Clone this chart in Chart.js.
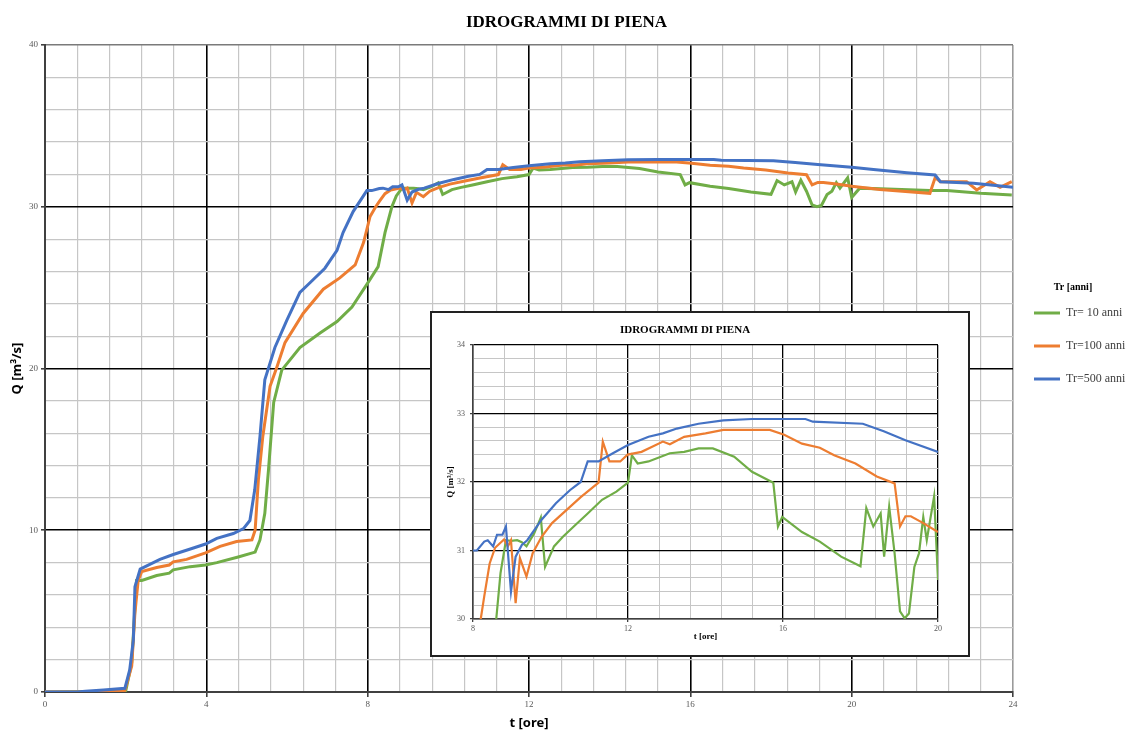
<!DOCTYPE html>
<html>
<head>
<meta charset="utf-8">
<script src="https://cdn.jsdelivr.net/npm/chart.js@4.4.1/dist/chart.umd.min.js"></script>
<style>
  html, body { margin: 0; padding: 0; background: #fff; }
  #wrap { position: relative; width: 1133px; height: 731px; }
  #main { position: absolute; left: 0; top: 0; }
  #insetBox { position: absolute; left: 430px; top: 311px; width: 540px; height: 346px;
              box-sizing: border-box; border: 2px solid #222; background: #fff; }
  #inset { position: absolute; left: 0; top: 0; }
</style>
</head>
<body>
<div id="wrap">
  <canvas id="main" width="1133" height="731"></canvas>
  <div id="insetBox"><canvas id="inset" width="536" height="342"></canvas></div>
</div>
<script>
// ---- data (t in hours, Q in m3/s) ----
const seriesLabels = ['Tr= 10 anni', 'Tr=100 anni', 'Tr=500 anni'];
const seriesColors = ['#70AD47', '#ED7D31', '#4472C4'];

const tG = [0, 2.0, 2.15, 2.27, 2.4, 2.77, 3.08, 3.18, 3.6, 3.98, 4.26, 4.79, 5.21, 5.33, 5.45, 5.54, 5.67, 5.87, 6.32, 6.82, 7.24, 7.61, 7.98, 8.26, 8.43, 8.6, 8.71, 8.85, 8.98, 9.14, 9.26, 9.38, 9.58, 9.75, 9.86, 10.09, 10.32, 10.6, 10.96, 11.33, 11.7, 12.0, 12.1, 12.25, 12.53, 13.08, 13.45, 13.82, 14.19, 14.74, 15.2, 15.75, 15.87, 15.98, 16.49, 16.95, 17.5, 18.0, 18.15, 18.33, 18.52, 18.61, 18.74, 18.88, 19.02, 19.14, 19.25, 19.39, 19.51, 19.62, 19.71, 19.9, 20.0, 20.2, 21.94, 22.36, 23.2, 23.97];
const qG = [0, 0.05, 1.8, 6.9, 6.9, 7.2, 7.35, 7.55, 7.75, 7.85, 8.0, 8.35, 8.65, 9.4, 11.05, 13.7, 17.9, 19.9, 21.3, 22.2, 22.9, 23.8, 25.2, 26.3, 28.4, 30.0, 30.67, 31.15, 31.14, 31.15, 31.12, 31.06, 31.25, 31.48, 30.76, 31.06, 31.2, 31.35, 31.54, 31.74, 31.86, 31.99, 32.39, 32.27, 32.3, 32.42, 32.44, 32.49, 32.49, 32.37, 32.15, 31.99, 31.35, 31.49, 31.27, 31.13, 30.91, 30.77, 31.62, 31.35, 31.54, 30.91, 31.64, 30.96, 30.11, 30.01, 30.08, 30.76, 30.96, 31.49, 31.15, 31.79, 30.57, 31.15, 31.0, 31.0, 30.83, 30.73];

const tO = [0, 1.62, 1.98, 2.15, 2.23, 2.31, 2.4, 2.77, 3.08, 3.18, 3.51, 3.98, 4.34, 4.75, 5.13, 5.21, 5.29, 5.4, 5.58, 5.75, 5.95, 6.4, 6.9, 7.31, 7.69, 7.9, 8.06, 8.2, 8.29, 8.43, 8.57, 8.8, 8.9, 8.98, 9.1, 9.21, 9.38, 9.54, 9.77, 10.04, 10.41, 10.78, 11.24, 11.35, 11.52, 11.8, 11.99, 12.35, 12.9, 13.08, 13.45, 14.0, 14.46, 15.66, 16.03, 16.49, 16.95, 17.32, 17.87, 18.42, 18.88, 19.02, 19.16, 19.3, 19.62, 20.0, 20.7, 21.94, 22.07, 22.2, 22.85, 23.1, 23.43, 23.68, 23.97];
const qO = [0, 0, 0.1, 1.6, 4.9, 6.9, 7.45, 7.7, 7.85, 8.05, 8.2, 8.6, 9.0, 9.3, 9.4, 10.0, 13.1, 15.8, 18.9, 20.1, 21.6, 23.4, 24.9, 25.6, 26.4, 27.8, 29.4, 30.0, 30.33, 30.81, 31.04, 31.16, 31.06, 31.15, 30.23, 30.89, 30.62, 30.96, 31.2, 31.4, 31.59, 31.78, 31.99, 32.59, 32.3, 32.3, 32.4, 32.44, 32.59, 32.55, 32.66, 32.71, 32.76, 32.76, 32.69, 32.56, 32.5, 32.39, 32.27, 32.08, 31.98, 31.35, 31.5, 31.5, 31.4, 31.27, 31.07, 30.83, 31.8, 31.55, 31.55, 31.04, 31.55, 31.2, 31.55];

const tB = [0, 0.8, 1.0, 1.45, 1.98, 2.1, 2.19, 2.23, 2.36, 2.85, 3.18, 3.68, 3.98, 4.26, 4.67, 4.92, 5.08, 5.2, 5.33, 5.45, 5.7, 6.0, 6.32, 6.57, 6.94, 7.24, 7.39, 7.64, 7.98, 8.1, 8.29, 8.38, 8.52, 8.62, 8.76, 8.85, 8.98, 9.1, 9.26, 9.4, 9.77, 10.14, 10.5, 10.78, 10.96, 11.24, 11.61, 12.0, 12.53, 12.9, 13.26, 13.82, 14.46, 15.2, 16.0, 16.58, 16.77, 18.06, 18.6, 19.16, 20.0, 20.54, 21.37, 22.07, 22.2, 23.02, 24];
const qB = [0, 0, 0.04, 0.12, 0.23, 1.36, 3.2, 6.5, 7.6, 8.2, 8.5, 8.9, 9.15, 9.5, 9.8, 10.1, 10.6, 12.5, 15.8, 19.3, 21.3, 23.0, 24.7, 25.3, 26.2, 27.3, 28.4, 29.7, 31.0, 31.0, 31.13, 31.15, 31.06, 31.23, 31.23, 31.35, 30.4, 30.91, 31.08, 31.15, 31.45, 31.69, 31.88, 32.0, 32.3, 32.3, 32.42, 32.54, 32.66, 32.71, 32.78, 32.85, 32.9, 32.92, 32.92, 32.92, 32.88, 32.85, 32.74, 32.61, 32.44, 32.3, 32.1, 31.96, 31.55, 31.45, 31.2];

const chartTitle = 'IDROGRAMMI DI PIENA';
const xTitle = 't [ore]';
const yTitle = 'Q [m³/s]';
const legendTitle = 'Tr [anni]';

const mainX = { min: 0, max: 24, step: 0.8, major: 4 };
const mainY = { min: 0, max: 40, step: 2, major: 10 };
const insetX = { min: 8, max: 20, step: 0.8, major: 4 };
const insetY = { min: 30, max: 34, step: 0.2, major: 1 };

// ---- helpers ----
const pts = (ts, qs) => ts.map((t, i) => ({ x: t, y: qs[i] }));
const isMajor = (v, base, major) => Math.abs(((v - base) / major) - Math.round((v - base) / major)) < 1e-6;

function makeDatasets(width) {
  const sets = [[tG, qG], [tO, qO], [tB, qB]];
  return sets.map((s, i) => ({
    label: seriesLabels[i],
    data: pts(s[0], s[1]),
    borderColor: seriesColors[i],
    backgroundColor: seriesColors[i],
    borderWidth: width,
    pointRadius: 0,
    pointHoverRadius: 0,
    tension: 0,
    fill: false,
    order: 3 - i
  }));
}

const SERIF = "'Liberation Serif', 'Times New Roman', serif";

function axis(cfg, opts) {
  return {
    type: 'linear',
    min: cfg.min, max: cfg.max,
    border: { display: true, color: '#404040', width: opts.borderW },
    grid: {
      color: c => {
        const v = c.tick.value;
        if (opts.edgeColor && Math.abs(v - cfg.max) < 1e-6) return opts.edgeColor;
        return isMajor(v, cfg.min, cfg.major) ? '#000000' : '#c6c6c6';
      },
      lineWidth: c => isMajor(c.tick.value, cfg.min, cfg.major) ? opts.majorW : opts.minorW,
      tickColor: c => isMajor(c.tick.value, cfg.min, cfg.major) ? '#404040' : 'rgba(0,0,0,0)',
      tickLength: opts.tickLength,
      drawTicks: true
    },
    ticks: {
      stepSize: cfg.step,
      autoSkip: false,
      maxRotation: 0,
      padding: opts.tickPad,
      color: '#595959',
      font: { family: SERIF, size: opts.tickSize },
      callback: v => isMajor(v, cfg.min, cfg.major) ? String(Math.round(v)) : ''
    },
    title: {
      display: true,
      text: opts.title,
      color: '#000',
      font: opts.titleFont,
      padding: opts.titlePad
    },
    afterFit: s => { if (opts.fitW) s.width = opts.fitW; if (opts.fitH) s.height = opts.fitH; }
  };
}

// ---- main chart ----
new Chart(document.getElementById('main'), {
  type: 'line',
  data: { datasets: makeDatasets(3) },
  options: {
    responsive: false,
    animation: false,
    devicePixelRatio: 1,
    layout: { padding: 0 },
    plugins: {
      tooltip: { enabled: false },
      title: {
        display: true, text: chartTitle, color: '#000',
        font: { family: SERIF, size: 17, weight: 'bold', lineHeight: 1.2 },
        padding: { top: 12, bottom: 12.6 }
      },
      legend: {
        display: true, position: 'right', align: 'start', maxWidth: 120,
        title: {
          display: true, text: legendTitle, color: '#000', position: 'center',
          font: { family: SERIF, size: 10, weight: 'bold', lineHeight: 1.2 },
          padding: { top: 282, bottom: -8 }
        },
        labels: {
          usePointStyle: true, pointStyle: 'line', pointStyleWidth: 26,
          padding: 21, color: '#404040',
          font: { family: SERIF, size: 12 },
          sort: (a, b) => a.datasetIndex - b.datasetIndex
        }
      }
    },
    scales: {
      x: axis(mainX, { borderW: 2, majorW: 1.6, minorW: 1.2, tickLength: 5, tickPad: 2, tickSize: 9,
        title: xTitle, titleFont: { family: "'Noto Sans', sans-serif", size: 13, weight: 'bold', lineHeight: 1.2 },
        titlePad: { top: 0, bottom: 0 }, fitH: 39, edgeColor: '#9a9a9a' }),
      y: axis(mainY, { borderW: 2, majorW: 1.6, minorW: 1.2, tickLength: 4, tickPad: 3, tickSize: 9,
        title: yTitle, titleFont: { family: "'Noto Sans', sans-serif", size: 13, weight: 'bold', lineHeight: 1.2 },
        titlePad: { top: 9, bottom: 0 }, fitW: 45, edgeColor: '#7a7a7a' })
    }
  }
});

// ---- inset chart ----
new Chart(document.getElementById('inset'), {
  type: 'line',
  data: { datasets: makeDatasets(2.2) },
  options: {
    responsive: false,
    animation: false,
    devicePixelRatio: 1,
    layout: { padding: { left: 0, right: 30, top: 0, bottom: 0 } },
    plugins: {
      tooltip: { enabled: false },
      legend: { display: false },
      title: {
        display: true, text: chartTitle, color: '#000',
        font: { family: SERIF, size: 11, weight: 'bold', lineHeight: 1.2 },
        padding: { top: 10.4, bottom: 8.4 }
      }
    },
    scales: {
      x: axis(insetX, { borderW: 1.5, majorW: 1.3, minorW: 1, tickLength: 3, tickPad: 2, tickSize: 8,
        title: xTitle, titleFont: { family: SERIF, size: 9, weight: 'bold', lineHeight: 1.2 },
        titlePad: { top: 0, bottom: 12.6 }, fitH: 36, edgeColor: null }),
      y: axis(insetY, { borderW: 1.5, majorW: 1.3, minorW: 1, tickLength: 3, tickPad: 5, tickSize: 8,
        title: yTitle, titleFont: { family: SERIF, size: 9, weight: 'bold', lineHeight: 1.2 },
        titlePad: { top: 13.6, bottom: 0 }, fitW: 41, edgeColor: null })
    }
  }
});
</script>
</body>
</html>
